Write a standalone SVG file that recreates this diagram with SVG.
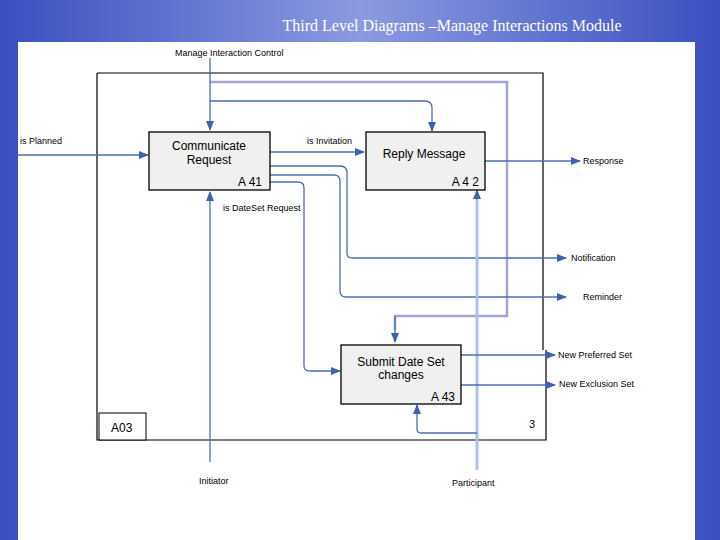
<svg xmlns="http://www.w3.org/2000/svg" width="720" height="540" viewBox="0 0 720 540">
<defs>
<linearGradient id="bg" x1="0" y1="0" x2="1" y2="0">
<stop offset="0" stop-color="#3a4fc0"/><stop offset="0.5" stop-color="#8c9ae0"/><stop offset="1" stop-color="#3a4fc0"/>
</linearGradient>
<marker id="ar" markerWidth="10" markerHeight="8" refX="9" refY="4" orient="auto" markerUnits="userSpaceOnUse">
<path d="M0,0 L10,4 L0,8 z" fill="#3d63ad"/>
</marker>
<style>
.ln{fill:none;stroke:#4a6fb5;stroke-width:1.3}
.lt{fill:none;stroke:#a3a5d3;stroke-width:2.5}
.lb{fill:none;stroke:#a8c4e8;stroke-width:3}
.box{fill:#f0f0f0;stroke:#000;stroke-width:1.3}
.t{font-family:"Liberation Sans",Arial,sans-serif;fill:#000}
.s{font-size:9px}
.m{font-size:12px}
</style>
</defs>
<rect width="720" height="540" fill="url(#bg)"/>
<rect x="18" y="42" width="677" height="498" fill="#fff"/>
<text x="452" y="31" text-anchor="middle" font-family="Liberation Serif,serif" font-size="16" fill="#fff">Third Level Diagrams –Manage Interactions Module</text>
<g id="frame" fill="none" stroke="#000" stroke-width="1.2">
<path d="M97,73 H543 V350 M546,350 V440 H97 V73"/>
</g>
<g id="connectors">
<path class="lt" d="M210,82 H507 V316 H395 V330"/>
<path class="ln" d="M395,316 V342" marker-end="url(#ar)"/>
<path class="ln" d="M210,58 V130" marker-end="url(#ar)"/>
<path class="ln" d="M210,101 H425 Q432,101 432,108 V131" marker-end="url(#ar)"/>
<path class="ln" d="M18,155 H148" marker-end="url(#ar)"/>
<path class="ln" d="M270,152 H364" marker-end="url(#ar)"/>
<path class="ln" d="M270,166 H340 Q347,166 347,173 V253 Q347,258 352,258 H566" marker-end="url(#ar)"/>
<path class="ln" d="M270,175 H334 Q340,175 340,181 V291 Q340,297 346,297 H566" marker-end="url(#ar)"/>
<path class="ln" d="M270,182 H298 Q304,182 304,188 V366 Q304,371 310,371 H340" marker-end="url(#ar)"/>
<path class="ln" d="M485,161 H580" marker-end="url(#ar)"/>
<path class="ln" d="M210,462 V192" marker-end="url(#ar)"/>
<path class="lb" d="M477,470 V200"/>
<path class="ln" d="M477,200 V190" marker-end="url(#ar)"/>
<path class="ln" d="M477,433 H421 Q417,433 417,429 V405" marker-end="url(#ar)"/>
<path class="ln" d="M461,355 H555" marker-end="url(#ar)"/>
<path class="ln" d="M461,385 H555" marker-end="url(#ar)"/>
</g>
<g id="A41">
<rect class="box" x="149" y="132" width="121" height="58"/>
<text class="t m" x="209" y="150" text-anchor="middle">Communicate</text>
<text class="t m" x="209" y="164" text-anchor="middle">Request</text>
<text class="t m" x="262" y="186" text-anchor="end">A 41</text>
</g>
<g id="A42">
<rect class="box" x="366" y="132" width="119" height="58"/>
<text class="t m" x="424" y="158" text-anchor="middle">Reply Message</text>
<text class="t m" x="479" y="186" text-anchor="end">A 4 2</text>
</g>
<g id="A43">
<rect class="box" x="341" y="345" width="120" height="59"/>
<text class="t m" x="401" y="366" text-anchor="middle">Submit Date Set</text>
<text class="t m" x="401" y="379" text-anchor="middle">changes</text>
<text class="t m" x="455" y="401" text-anchor="end">A 43</text>
</g>
<g id="A03">
<rect x="99" y="413" width="47" height="27" fill="#fff" stroke="#000" stroke-width="1"/>
<text class="t m" x="111" y="432" font-size="11">A03</text>
</g>
<g id="labels">
<text class="t s" x="175" y="56">Manage Interaction Control</text>
<text class="t s" x="20" y="144">is Planned</text>
<text class="t s" x="307" y="144">is Invitation</text>
<text class="t s" x="223" y="211">is DateSet Request</text>
<text class="t s" x="583" y="164">Response</text>
<text class="t s" x="571" y="261">Notification</text>
<text class="t s" x="583" y="300">Reminder</text>
<text class="t s" x="558" y="358">New Preferred Set</text>
<text class="t s" x="559" y="387">New Exclusion Set</text>
<text class="t s" x="199" y="484">Initiator</text>
<text class="t s" x="452" y="486">Participant</text>
<text class="t" x="529" y="428" font-size="11">3</text>
</g>
</svg>
